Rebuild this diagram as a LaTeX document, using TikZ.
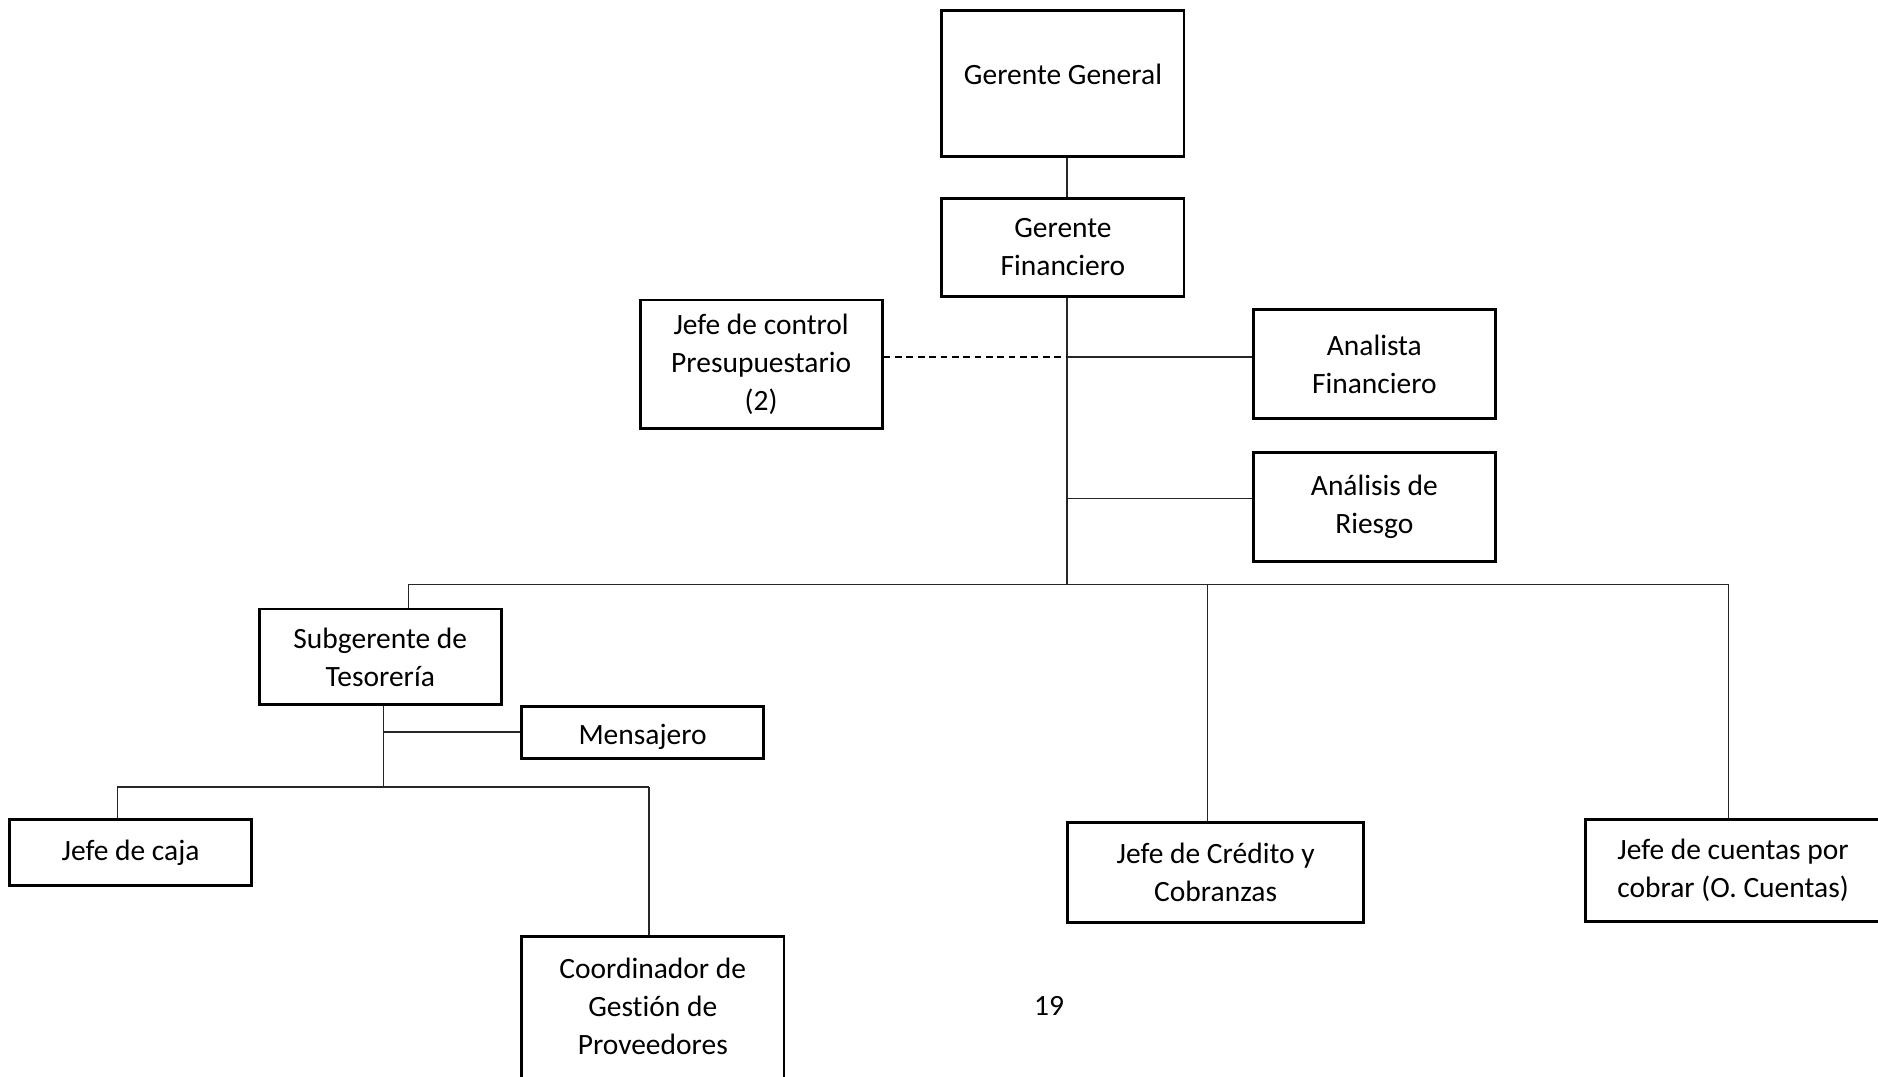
\documentclass[tikz,border=0pt]{standalone}
\usepackage{fontspec}
\setmainfont{Carlito}[Ligatures=NoCommon]
\usepackage{tikz}
\usetikzlibrary{positioning, calc}
\tikzset{every node/.append style={align=center}}

\begin{document}
\begin{tikzpicture}[
    x=0.01cm, y=-0.01cm,
    font=\fontsize{7}{9}\selectfont,
    caja/.style={rectangle, draw=black, line width=0.7pt, minimum width=2.02cm,
        inner sep=0pt, align=center},
    cajaw/.style={caja, minimum width=2.47cm},
    linea/.style={line width=0.35pt, black!85},
    punteada/.style={line width=0.5pt, black, dash pattern=on 1.6pt off 1.1pt}
]
\useasboundingbox (0,0) rectangle (1568,899);
% ===== GERENCIA =====
\node[caja, text height=0.62cm, text depth=0.60cm] (gg) at (887.5,69.5) {Gerente General};
\node[caja, minimum height=0.82cm] (gf) at (887.5,206.5) {Gerente\\Financiero};
% ===== STAFF =====
\node[caja, minimum height=1.07cm] (jcontrol) at (635.5,304) {Jefe de control\\Presupuestario\\(2)};
\node[caja, minimum height=0.91cm] (af) at (1147.5,304) {Analista\\Financiero};
\node[caja, minimum height=0.91cm] (ar) at (1147.5,423) {Análisis de\\Riesgo};
% ===== JEFATURAS =====
\node[caja, minimum height=0.80cm] (st) at (317.5,548.5) {Subgerente de\\Tesorería};
\node[caja, text height=0.325cm, text depth=0.115cm] (men) at (536.5,611.5) {Mensajero};
\node[caja, minimum height=0.55cm] (caja) at (109,712) {Jefe de caja};
\node[caja, minimum width=2.19cm, minimum height=1.48cm] (cgp) at (545,856)
    {Coordinador de\\Gestión de\\Proveedores\\\mbox{}};
\node[cajaw, minimum height=0.84cm] (jcc) at (1015,728.5) {Jefe de Crédito y\\Cobranzas};
\node[cajaw, minimum height=0.85cm] (jcu) at (1447,727) {Jefe de cuentas por\\cobrar (O. Cuentas)};
\node (pagina) at (876,840) {19};
% ===== PUNTOS DE UNION =====
\coordinate (c1)   at (891,298);
\coordinate (c2)   at (891,416);
\coordinate (bus)  at (891,488);
\coordinate (busL) at (341,488);
\coordinate (busM) at (1008,488);
\coordinate (busR) at (1443,488);
\coordinate (t1)   at (320,611);
\coordinate (t2)   at (320,657);
\coordinate (t2L)  at (98,657);
\coordinate (t2R)  at (542,657);
% ===== CONECTORES =====
\draw[linea] (gg.south -| bus) -- (gf.north -| bus);
\draw[linea] (gf.south -| bus) -- (bus);
\draw[punteada] (jcontrol.east |- c1) -- (c1);
\draw[linea] (c1) -- (af.west |- c1);
\draw[linea] (c2) -- (ar.west |- c2);
\draw[linea] (busL) -- (busR);
\draw[linea] (busL) -- (st.north -| busL);
\draw[linea] (busM) -- (jcc.north -| busM);
\draw[linea] (busR) -- (jcu.north -| busR);
\draw[linea] (st.south -| t2) -- (t2);
\draw[linea] (t1) -- (men.west |- t1);
\draw[linea] (t2L) -- (t2R);
\draw[linea] (t2L) -- (caja.north -| t2L);
\draw[linea] (t2R) -- (cgp.north -| t2R);
\end{tikzpicture}
\end{document}
